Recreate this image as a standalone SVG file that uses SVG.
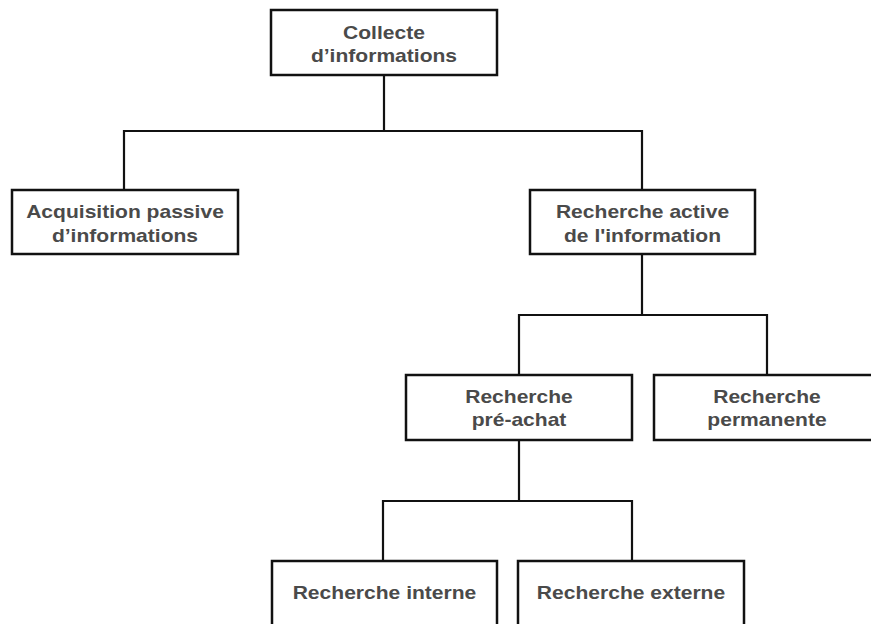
<svg xmlns="http://www.w3.org/2000/svg" width="871" height="624" viewBox="0 0 871 624">
  <style>
    .box { fill: #ffffff; stroke: #111111; stroke-width: 2.5; }
    .wire { fill: none; stroke: #111111; stroke-width: 2.2; stroke-linejoin: miter; stroke-linecap: square; }
    .lbl { font-family: "Liberation Sans", Arial, sans-serif; font-weight: bold; font-size: 18px; fill: #4a4a4a; text-anchor: middle; }
  </style>
  <rect x="0" y="0" width="871" height="624" fill="#ffffff"/>

  <g id="connectors">
    <path class="wire" d="M384,75 V131 M124,131 H642 M124,131 V190 M642,131 V190"/>
    <path class="wire" d="M642,254 V315 M519,315 H767 M519,315 V375 M767,315 V375"/>
    <path class="wire" d="M519,440 V501 M383,501 H632 M383,501 V561 M632,501 V561"/>
  </g>

  <g id="collecte">
    <rect class="box" x="271" y="10" width="226" height="65"/>
    <g transform="translate(384,0) scale(1.17,1)">
      <text class="lbl" x="0" y="39">Collecte</text>
      <text class="lbl" x="0" y="62">d’informations</text>
    </g>
  </g>

  <g id="acquisition-passive">
    <rect class="box" x="12" y="190" width="226" height="64"/>
    <g transform="translate(125,0) scale(1.17,1)">
      <text class="lbl" x="0" y="218">Acquisition passive</text>
      <text class="lbl" x="0" y="242">d’informations</text>
    </g>
  </g>

  <g id="recherche-active">
    <rect class="box" x="530" y="190" width="225" height="64"/>
    <g transform="translate(642.5,0) scale(1.17,1)">
      <text class="lbl" x="0" y="218">Recherche active</text>
      <text class="lbl" x="0" y="242">de l'information</text>
    </g>
  </g>

  <g id="recherche-pre-achat">
    <rect class="box" x="406" y="375" width="226" height="65"/>
    <g transform="translate(519,0) scale(1.17,1)">
      <text class="lbl" x="0" y="403">Recherche</text>
      <text class="lbl" x="0" y="426">pré-achat</text>
    </g>
  </g>

  <g id="recherche-permanente">
    <rect class="box" x="654" y="375" width="226" height="65"/>
    <g transform="translate(767,0) scale(1.17,1)">
      <text class="lbl" x="0" y="403">Recherche</text>
      <text class="lbl" x="0" y="426">permanente</text>
    </g>
  </g>

  <g id="recherche-interne">
    <rect class="box" x="272" y="561" width="225" height="80"/>
    <g transform="translate(384.5,0) scale(1.17,1)">
      <text class="lbl" x="0" y="599">Recherche interne</text>
    </g>
  </g>

  <g id="recherche-externe">
    <rect class="box" x="518" y="561" width="226" height="80"/>
    <g transform="translate(631,0) scale(1.17,1)">
      <text class="lbl" x="0" y="599">Recherche externe</text>
    </g>
  </g>
</svg>
